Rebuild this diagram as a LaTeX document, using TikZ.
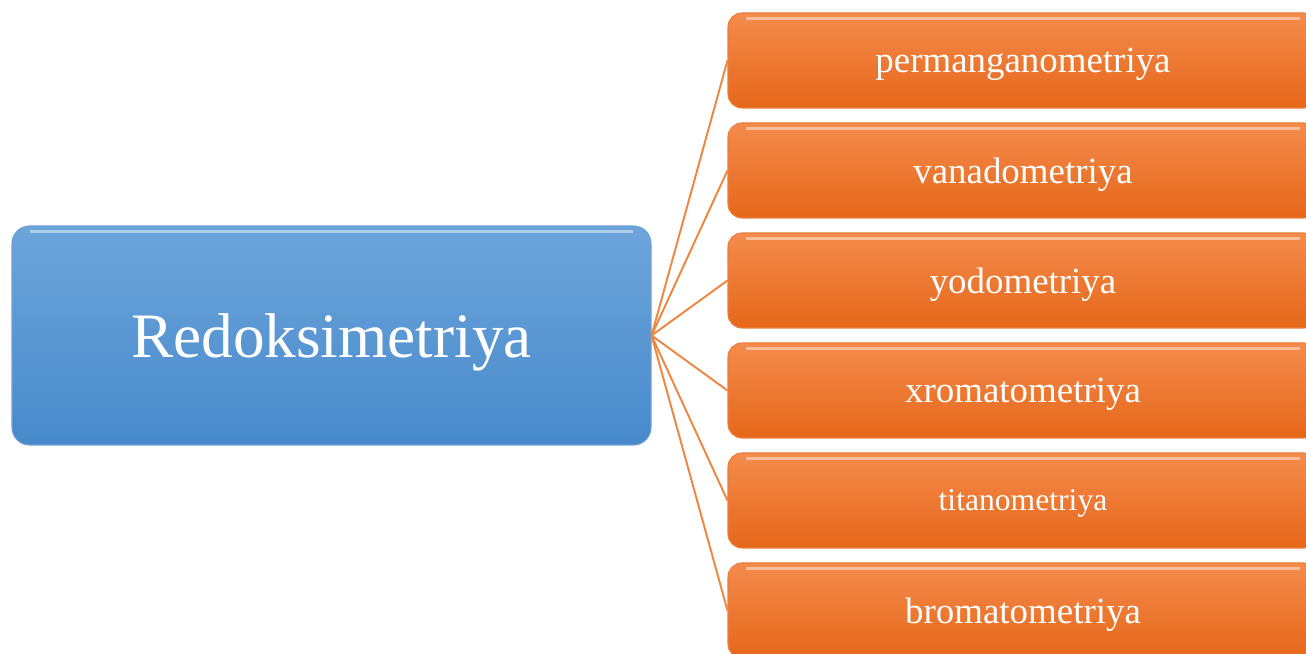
\documentclass[tikz,border=0pt]{standalone}
\usepackage{fontspec}
\setmainfont{Liberation Serif}
\definecolor{bluetop}{HTML}{6DA5DB}
\definecolor{bluebot}{HTML}{478ACB}
\definecolor{orangetop}{HTML}{F48B4C}
\definecolor{orangebot}{HTML}{E6671A}
\definecolor{linkorange}{HTML}{EE8640}
\tikzset{
  gloss/.style={path picture={
    \draw[white,opacity=0.45,line width=2pt]
      ([xshift=10pt,yshift=-3pt]path picture bounding box.north west) --
      ([xshift=-10pt,yshift=-3pt]path picture bounding box.north east);}},
  rootbox/.style={rectangle,rounded corners=0.35cm,top color=bluetop,bottom color=bluebot,
    draw=bluebot!80!white,line width=0.6pt,minimum width=12.78cm,minimum height=4.38cm,
    text=white,text depth=0pt,font=\fontsize{36}{40}\selectfont,gloss},
  leaf/.style={rectangle,rounded corners=0.28cm,top color=orangetop,bottom color=orangebot,
    draw=orangebot!85!white,line width=0.6pt,minimum width=11.8cm,minimum height=1.9cm,
    text=white,text depth=0pt,gloss},
  link/.style={linkorange,line width=1.1pt}
}
\begin{document}
\begin{tikzpicture}
\useasboundingbox (0,0) rectangle (26.12,13.08);
\clip (0,0) rectangle (26.12,13.08);
\node[rootbox] (root) at (6.63,6.37) {Redoksimetriya};
\foreach \nm/\yy/\txt/\fs in {perm/11.87/permanganometriya/21,
    vanad/9.67/vanadometriya/21, yod/7.47/yodometriya/21,
    xrom/5.27/xromatometriya/21, titan/3.07/titanometriya/18,
    brom/0.87/bromatometriya/21} {
  \node[leaf,font=\fontsize{\fs}{\fs}\selectfont] (\nm) at (20.46,\yy) {\txt};
  \draw[link] (root.east) -- (\nm.west);
}
\end{tikzpicture}
\end{document}
